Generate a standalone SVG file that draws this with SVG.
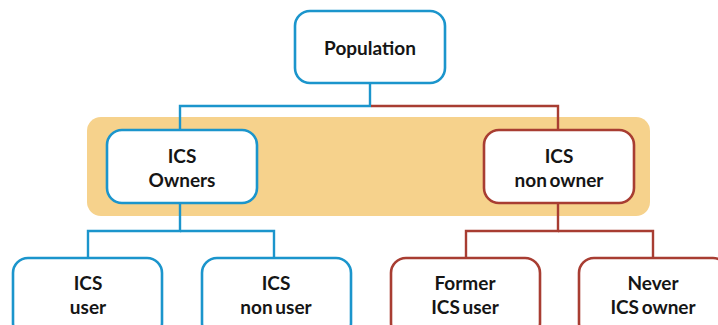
<svg xmlns="http://www.w3.org/2000/svg" width="718" height="325" viewBox="0 0 718 325">
<style>
.box{fill:#fff;stroke-width:2.6}
.b{stroke:#1b95cc}
.r{stroke:#a83d32}
.lb{fill:none;stroke:#1b95cc;stroke-width:2.4}
.lr{fill:none;stroke:#a83d32;stroke-width:2.4}
text{font-family:Lato,"Open Sans",sans-serif;font-weight:bold;font-size:19px;fill:#151515;text-anchor:middle;word-spacing:-2px}
</style>
<rect x="87" y="117" width="563" height="99" rx="14" fill="#f6d28c"/>
<g id="connectors">
<polyline class="lb" points="370,83 370,106 180,106 180,130"/>
<polyline class="lr" points="371,106 558,106 558,130"/>
<polyline class="lb" points="180,203 180,231 88,231 88,258"/>
<polyline class="lb" points="180,231 274,231 274,258"/>
<polyline class="lr" points="558,203 558,231 466,231 466,258"/>
<polyline class="lr" points="558,231 653,231 653,258"/>
</g>
<g id="population">
<rect class="box b" x="295" y="11" width="150" height="72" rx="15"/>
<text x="370" y="55">Population</text>
</g>
<g id="owners">
<rect class="box b" x="107" y="130" width="150" height="73" rx="15"/>
<text x="182" y="163">ICS</text>
<text x="182" y="187">Owners</text>
</g>
<g id="nonowner">
<rect class="box r" x="484" y="130" width="150" height="73" rx="15"/>
<text x="559" y="163">ICS</text>
<text x="559" y="187">non owner</text>
</g>
<g id="user">
<rect class="box b" x="13" y="258" width="149" height="80" rx="15"/>
<text x="88" y="290">ICS</text>
<text x="88" y="314">user</text>
</g>
<g id="nonuser">
<rect class="box b" x="202" y="258" width="149" height="80" rx="15"/>
<text x="276" y="290">ICS</text>
<text x="276" y="314">non user</text>
</g>
<g id="former">
<rect class="box r" x="391" y="258" width="149" height="80" rx="15"/>
<text x="465" y="290">Former</text>
<text x="465" y="314">ICS user</text>
</g>
<g id="never">
<rect class="box r" x="579" y="258" width="149" height="80" rx="15"/>
<text x="653" y="290">Never</text>
<text x="653" y="314">ICS owner</text>
</g>
</svg>
